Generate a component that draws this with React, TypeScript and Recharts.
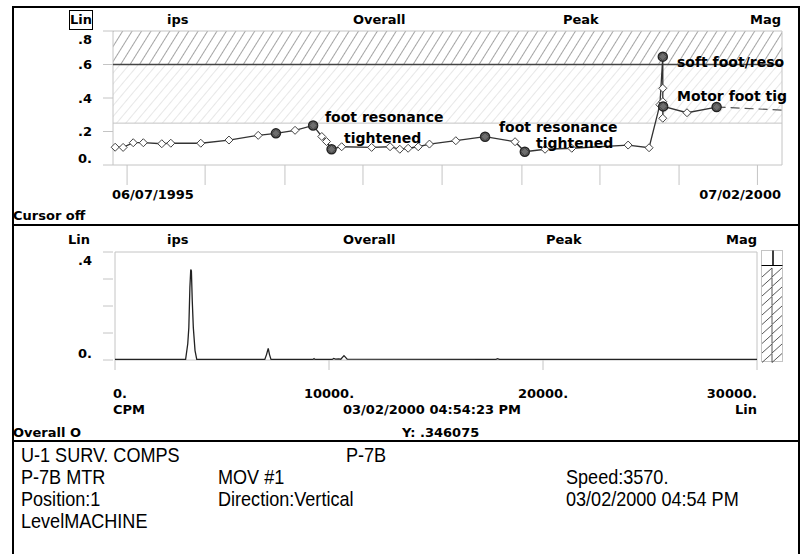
import { LineChart, Line, XAxis, YAxis, ReferenceArea, ReferenceLine } from "recharts";

// Overall peak velocity (ips) per survey date
const trendDates = [
  "1995-06-13", "1995-07-05", "1995-08-02", "1995-08-30", "1995-10-20", "1995-11-14",
  "1996-02-05", "1996-04-23", "1996-07-13", "1996-08-31", "1996-10-23", "1996-12-12",
  "1997-01-05", "1997-01-18", "1997-02-01", "1997-03-01", "1997-05-23", "1997-07-13",
  "1997-08-09", "1997-09-01", "1997-09-29", "1997-10-30", "1998-01-11", "1998-04-02",
  "1998-06-24", "1998-07-21", "1998-09-15", "1998-11-28", "1999-05-03", "1999-06-30",
  "1999-07-30", "1999-08-07", "1999-08-07", "1999-08-07", "1999-08-07", "1999-08-08",
  "1999-10-13", "2000-01-03",
];
const trendValues = [
  0.106, 0.105, 0.133, 0.133, 0.127, 0.13,
  0.13, 0.149, 0.177, 0.189, 0.207, 0.236,
  0.17, 0.14, 0.094, 0.109, 0.105, 0.109,
  0.094, 0.1, 0.109, 0.125, 0.145, 0.169,
  0.139, 0.079, 0.094, 0.1, 0.119, 0.103,
  0.36, 0.647, 0.458, 0.378, 0.279, 0.35,
  0.312, 0.346,
];
// surveys that carry a note
const trendNoted = [9, 11, 14, 23, 25, 31, 35, 37];
const projectionDates = ["2000-01-03", "2000-07-02"];
const projectionValues = [0.346, 0.328];

const trendStart = "1995-06-07";
const trendEnd = "2000-07-02";
const trendTickDates = [
  "1995-07-16", "1996-02-17", "1996-09-25", "1997-04-29", "1997-12-04",
  "1998-07-13", "1999-02-14", "1999-09-21", "2000-04-25",
];
const trendYTicks = [0, 0.2, 0.4, 0.6, 0.8];
const trendYLabels = ["0.", ".2", ".4", ".6", ".8"];

// alarm bands
const alertLevel = 0.25;
const dangerLevel = 0.6;

// spectrum, 03/02/2000
const spectrumCpm = [
  0, 3300, 3400, 3450, 3500, 3540, 3570, 3610, 3660, 3740, 3820,
  7000, 7080, 7160, 7220, 7290, 9250, 9300, 9350,
  10150, 10220, 10300, 10450, 10550, 10700, 10850,
  17800, 17880, 17960, 30000,
];
const spectrumIps = [
  0.002, 0.002, 0.06, 0.12, 0.27, 0.335, 0.33, 0.22, 0.12, 0.035, 0.002,
  0.002, 0.02, 0.043, 0.02, 0.002, 0.002, 0.005, 0.002,
  0.002, 0.006, 0.003, 0.004, 0.003, 0.016, 0.003,
  0.002, 0.005, 0.002, 0.002,
];
const spectrumXTicks = [0, 10000, 20000, 30000];
const spectrumXLabels = ["0.", "10000.", "20000.", "30000."];
const spectrumYTicks = [0, 0.1, 0.2, 0.3, 0.4];
const spectrumYLabels = ["0.", "", "", "", ".4"];

const headerLabels = ["ips", "Overall", "Peak", "Mag"];

const toDay = (s: string) => Date.parse(s) / 86400000;

const trendData = trendDates.map((d, i) => ({
  t: toDay(d),
  v: trendValues[i],
  noted: trendNoted.includes(i),
}));
const projectionData = projectionDates.map((d, i) => ({ t: toDay(d), v: projectionValues[i] }));
const spectrumData = spectrumCpm.map((c, i) => ({ cpm: c, ips: spectrumIps[i] }));

const bold = {
  fontFamily: "'DejaVu Sans', sans-serif",
  fontWeight: 700,
  fontSize: 13,
  color: "#000",
};

function Txt({ x, y, children, right, size }: any) {
  return (
    <div
      style={{
        ...bold,
        fontSize: size ?? 13,
        position: "absolute",
        top: y - 8,
        lineHeight: "16px",
        whiteSpace: "nowrap",
        ...(right != null ? { right: 806 - right } : { left: x }),
      }}
    >
      {children}
    </div>
  );
}

function Info({ x, y, children }: any) {
  return (
    <div
      style={{
        position: "absolute",
        left: x,
        top: y - 12,
        lineHeight: "24px",
        fontFamily: "'Liberation Sans', Arial, sans-serif",
        fontSize: 21,
        whiteSpace: "nowrap",
        transform: "scaleX(0.86)",
        transformOrigin: "left center",
      }}
    >
      {children}
    </div>
  );
}

const yTick = (ticks: number[], labels: string[], top: number) => (props: any) => {
  const { x, y, payload } = props;
  const i = ticks.indexOf(payload.value);
  const shift = payload.value === top ? 8 : payload.value === 0 ? -7 : 0;
  return (
    <text
      x={x}
      y={y + shift}
      textAnchor="end"
      dominantBaseline="central"
      style={{ fontFamily: bold.fontFamily, fontWeight: 700, fontSize: 13 }}
      fill="#000"
    >
      {labels[i]}
    </text>
  );
};

const spectrumXTick = (props: any) => {
  const { x, y, payload } = props;
  const i = spectrumXTicks.indexOf(payload.value);
  const anchor = i === 0 ? "start" : i === spectrumXTicks.length - 1 ? "end" : "middle";
  return (
    <text
      x={i === 0 ? x - 2 : x}
      y={y}
      textAnchor={anchor}
      dominantBaseline="central"
      style={{ fontFamily: bold.fontFamily, fontWeight: 700, fontSize: 13 }}
      fill="#000"
    >
      {spectrumXLabels[i]}
    </text>
  );
};

const TrendDot = (props: any) => {
  const { cx, cy, payload, index } = props;
  if (cx == null || cy == null) return <g key={`dot-${index}`} />;
  const r = 4;
  return (
    <g key={`dot-${index}`}>
      {payload.noted && (
        <circle cx={cx} cy={cy} r={4.5} fill="#6e6e6e" stroke="#222" strokeWidth={1.5} />
      )}
      <polygon
        points={`${cx},${cy - r} ${cx + r},${cy} ${cx},${cy + r} ${cx - r},${cy}`}
        fill={payload.noted ? "none" : "#fff"}
        stroke="#444"
        strokeWidth={1}
      />
    </g>
  );
};

const gridStroke = "#c4c4c4";

export default function App() {
  return (
    <div
      style={{
        position: "absolute",
        left: 0,
        top: 0,
        width: 806,
        height: 554,
        background: "#fff",
        overflow: "hidden",
      }}
    >
      {/* frame and panel separators */}
      <div style={{ position: "absolute", left: 12, top: 6, width: 784, height: 600, border: "2px solid #000" }} />
      <div style={{ position: "absolute", left: 12, top: 224, width: 788, height: 2, background: "#000" }} />
      <div style={{ position: "absolute", left: 12, top: 440, width: 788, height: 2, background: "#000" }} />

      {/* trend panel */}
      <div
        style={{
          position: "absolute",
          left: 69,
          top: 10,
          width: 22,
          height: 18,
          border: "1px solid #000",
        }}
      />
      <Txt x={70} y={20}>Lin</Txt>
      <Txt x={167} y={20}>{headerLabels[0]}</Txt>
      <Txt x={353} y={20}>{headerLabels[1]}</Txt>
      <Txt x={563} y={20}>{headerLabels[2]}</Txt>
      <Txt right={781} y={20}>{headerLabels[3]}</Txt>

      <div style={{ position: "absolute", left: 0, top: 0 }}>
        <LineChart
          width={806}
          height={200}
          data={trendData}
          margin={{ top: 31, right: 24, bottom: 0, left: 0 }}
        >
          <defs>
            <pattern id="hatchDark" patternUnits="userSpaceOnUse" width="8" height="12" patternTransform="rotate(32)">
              <line x1="0" y1="0" x2="0" y2="12" stroke="#4a4a4a" strokeWidth="1" />
            </pattern>
            <pattern id="hatchLight" patternUnits="userSpaceOnUse" width="7" height="12" patternTransform="rotate(40)">
              <line x1="0" y1="0" x2="0" y2="12" stroke="#cfcfcf" strokeWidth="1" />
            </pattern>
          </defs>
          <XAxis
            dataKey="t"
            type="number"
            domain={[toDay(trendStart), toDay(trendEnd)]}
            ticks={trendTickDates.map(toDay)}
            interval={0}
            height={35}
            tickSize={20}
            axisLine={false}
            tickLine={{ stroke: gridStroke }}
            tick={() => <g />}
          />
          <YAxis
            type="number"
            domain={[0, 0.8]}
            ticks={trendYTicks}
            interval={0}
            width={113}
            tickSize={10}
            tickMargin={11}
            axisLine={false}
            tickLine={{ stroke: gridStroke }}
            tick={yTick(trendYTicks, trendYLabels, 0.8)}
          />
          <ReferenceArea y1={dangerLevel} y2={0.8} fill="url(#hatchDark)" fillOpacity={1} stroke="none" />
          <ReferenceArea y1={alertLevel} y2={dangerLevel} fill="url(#hatchLight)" fillOpacity={1} stroke="none" />
          <ReferenceLine y={alertLevel} stroke={gridStroke} strokeWidth={1} />
          <ReferenceArea y1={0} y2={0.8} fill="none" stroke={gridStroke} strokeWidth={1} />
          <ReferenceLine y={dangerLevel} stroke="#444" strokeWidth={1.5} />
          <Line
            data={projectionData}
            dataKey="v"
            stroke="#555"
            strokeWidth={1.2}
            strokeDasharray="9 5"
            dot={false}
            isAnimationActive={false}
          />
          <Line
            dataKey="v"
            stroke="#333"
            strokeWidth={1.3}
            dot={(p: any) => <TrendDot {...p} key={`dot-${p.index}`} />}
            isAnimationActive={false}
          />
        </LineChart>
      </div>

      {/* survey notes, cut at the plot edge */}
      <Txt x={325} y={117} size={14}>foot resonance</Txt>
      <Txt x={344} y={138} size={14}>tightened</Txt>
      <Txt x={499} y={127} size={14}>foot resonance</Txt>
      <Txt x={536} y={143} size={14}>tightened</Txt>
      <Txt x={677} y={62} size={14}>soft foot/reso</Txt>
      <Txt x={677} y={96} size={14}>Motor foot tig</Txt>

      <Txt x={112} y={195}>06/07/1995</Txt>
      <Txt right={781} y={195}>07/02/2000</Txt>
      <Txt x={13} y={216}>Cursor off</Txt>

      {/* spectrum panel */}
      <Txt x={68} y={240}>Lin</Txt>
      <Txt x={167} y={240}>{headerLabels[0]}</Txt>
      <Txt x={343} y={240}>{headerLabels[1]}</Txt>
      <Txt x={546} y={240}>{headerLabels[2]}</Txt>
      <Txt right={757} y={240}>{headerLabels[3]}</Txt>

      <div style={{ position: "absolute", left: 0, top: 220 }}>
        <LineChart
          width={806}
          height={180}
          data={spectrumData}
          margin={{ top: 32, right: 49, bottom: 0, left: 0 }}
        >
          <XAxis
            dataKey="cpm"
            type="number"
            domain={[0, 30000]}
            ticks={spectrumXTicks}
            interval={0}
            height={40}
            tickSize={10}
            tickMargin={23}
            padding={{ left: 2, right: 0 }}
            axisLine={false}
            tickLine={{ stroke: gridStroke }}
            tick={spectrumXTick}
          />
          <YAxis
            type="number"
            domain={[0, 0.4]}
            ticks={spectrumYTicks}
            interval={0}
            width={113}
            tickSize={10}
            tickMargin={11}
            axisLine={false}
            tickLine={{ stroke: gridStroke }}
            tick={yTick(spectrumYTicks, spectrumYLabels, 0.4)}
          />
          <ReferenceArea y1={0} y2={0.4} fill="none" stroke={gridStroke} strokeWidth={1} />
          <Line
            dataKey="ips"
            type="linear"
            stroke="#222"
            strokeWidth={1.3}
            dot={false}
            isAnimationActive={false}
          />
        </LineChart>
      </div>

      {/* scale indicator beside the spectrum */}
      <svg style={{ position: "absolute", left: 760, top: 249 }} width={25} height={115}>
        <rect x={1.5} y={1.5} width={21} height={111} fill="#fff" stroke={gridStroke} />
        <line x1={1.5} y1={16.5} x2={22.5} y2={16.5} stroke="#000" strokeWidth={1} />
        <line x1={13} y1={1.5} x2={13} y2={16.5} stroke="#000" strokeWidth={1.5} />
        {Array.from({ length: 10 }, (_, k) => {
          const y0 = 18 + k * 9.5;
          return (
            <polyline
              key={k}
              points={`2,${y0 + 10} 12,${y0 + 1} 12,${y0 + 10} 22,${y0 + 1}`}
              fill="none"
              stroke="#444"
              strokeWidth={0.9}
            />
          );
        })}
      </svg>

      <Txt x={113} y={410}>CPM</Txt>
      <Txt x={343} y={410}>03/02/2000 04:54:23 PM</Txt>
      <Txt right={757} y={410}>Lin</Txt>
      <Txt x={13} y={433}>Overall O</Txt>
      <Txt x={402} y={433}>Y: .346075</Txt>

      {/* measurement point details */}
      <Info x={21} y={455}>U-1 SURV. COMPS</Info>
      <Info x={346} y={455}>P-7B</Info>
      <Info x={21} y={477}>P-7B MTR</Info>
      <Info x={218} y={477}>MOV #1</Info>
      <Info x={566} y={477}>Speed:3570.</Info>
      <Info x={21} y={499}>Position:1</Info>
      <Info x={218} y={499}>Direction:Vertical</Info>
      <Info x={566} y={499}>03/02/2000 04:54 PM</Info>
      <Info x={21} y={521}>LevelMACHINE</Info>
    </div>
  );
}
